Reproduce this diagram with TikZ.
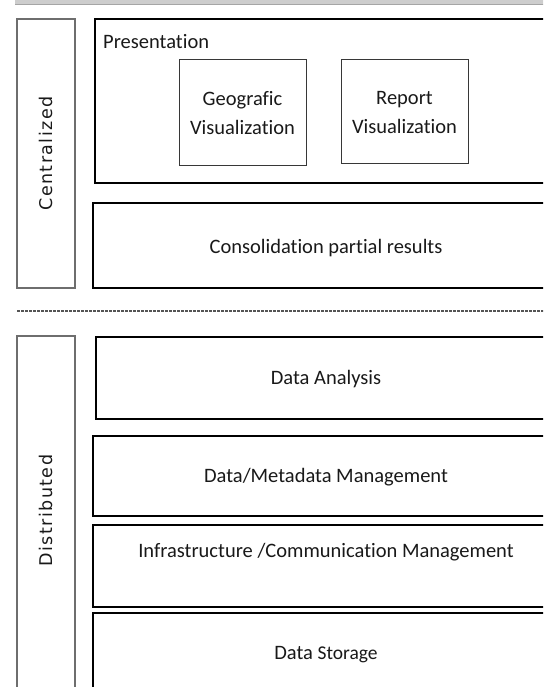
\documentclass[tikz,border=0pt]{standalone}
\usepackage{fontspec}
\setmainfont{Carlito}[Ligatures={NoCommon}]
\newfontfamily\sidefont[LetterSpace=8]{DejaVu Sans}
\definecolor{sidegray}{RGB}{110,110,110}
\definecolor{sepgray}{RGB}{85,85,85}
\definecolor{innergray}{RGB}{55,55,55}
\definecolor{barfill}{RGB}{205,205,205}
\definecolor{baredge}{RGB}{165,165,165}
\begin{document}
\begin{tikzpicture}[x=1pt,y=-1pt,
  layer/.style={draw=black, line width=1.3pt, anchor=north west, inner sep=0pt, outer sep=0pt},
  toplayer/.style={layer, line width=2.6pt},
  side/.style={draw=sidegray, line width=2pt, anchor=north west, inner sep=0pt, outer sep=0pt},
  module/.style={draw=innergray, line width=1pt, anchor=north west, inner sep=0pt, outer sep=0pt},
  lbl/.style={font=\fontsize{20.5}{29}\selectfont, align=center, inner sep=0pt, text=black!90},
  vlbl/.style={font=\sidefont\fontsize{17.5}{20}\selectfont, rotate=90, inner sep=0pt, text=black!90},
  sepline/.style={draw=sepgray, line width=2pt, dash pattern=on 3pt off 1pt}]
\useasboundingbox (0,0) rectangle (543,687);
\clip (0,0) rectangle (543,687);

% window bar along the top
\fill[barfill] (15,-2) rectangle (545,4);
\draw[baredge, line width=0.8pt] (15,4) -- (545,4);

% side bands
\node[side, minimum width=58pt, minimum height=269pt] (central) at (17,19) {};
\node[vlbl] (centraltxt) at (46,153.5) {Centralized};
\node[side, minimum width=58pt, minimum height=380pt] (distrib) at (17,336) {};
\node[vlbl] (distribtxt) at (46,510.5) {Distributed};

% centralized layers
\node[toplayer, minimum width=463pt, minimum height=164pt] (present) at (95,19) {};
\node[lbl, anchor=west] (presenttxt) at (103,42) {Presentation};
\node[module, minimum width=127pt, minimum height=106pt] (geo) at (179,60) {};
\node[lbl] (geotxt) at (242.5,113.5) {Geografic\\Visualization};
\node[module, minimum width=127pt, minimum height=104pt] (report) at (341,60) {};
\node[lbl] (reporttxt) at (404.5,112.5) {Report\\Visualization};

\node[layer, minimum width=465pt, minimum height=85pt] (consol) at (93,203) {};
\node[lbl] (consoltxt) at (326,248) {Consolidation partial results};

% separator between the two parts
\coordinate (sepL) at (17,311);
\coordinate (sepR) at (545,311);
\draw[sepline] (sepL) -- (sepR);

% distributed layers
\node[layer, minimum width=462pt, minimum height=82pt] (analysis) at (96,337) {};
\node[lbl] (analysistxt) at (326,379) {Data Analysis};
\node[layer, minimum width=465pt, minimum height=80pt] (meta) at (93,436) {};
\node[lbl] (metatxt) at (326,477) {Data/Metadata Management};
\node[layer, minimum width=465pt, minimum height=82pt] (infra) at (93,525) {};
\node[lbl] (infratxt) at (326,552) {Infrastructure /Communication Management};
\node[layer, minimum width=465pt, minimum height=90pt] (storage) at (93,613) {};
\node[lbl] (storagetxt) at (326,655) {Data {\fontsize{19.5}{29}\selectfont Storage}};
\end{tikzpicture}
\end{document}
